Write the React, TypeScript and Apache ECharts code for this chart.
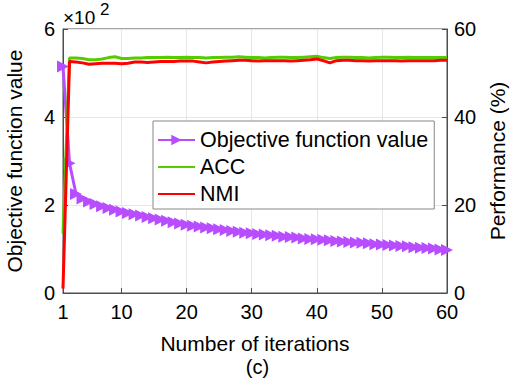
import React, { useEffect, useRef } from 'react';
import * as echarts from 'echarts';

const iterations: number[] = Array.from({ length: 60 }, (_, i) => i + 1);
const xTickValues = [1, 10, 20, 30, 40, 50, 60];

// Objective function value (×10^2)
const objective = [
  5.15, 2.95, 2.25, 2.15, 2.08, 2.02, 1.97, 1.93, 1.89, 1.85,
  1.82, 1.79, 1.76, 1.73, 1.70, 1.67, 1.64, 1.61, 1.58, 1.55,
  1.53, 1.51, 1.49, 1.47, 1.45, 1.43, 1.41, 1.39, 1.37, 1.36,
  1.34, 1.33, 1.31, 1.30, 1.28, 1.27, 1.26, 1.24, 1.23, 1.22,
  1.21, 1.20, 1.18, 1.17, 1.16, 1.15, 1.14, 1.13, 1.11, 1.10,
  1.09, 1.08, 1.07, 1.06, 1.04, 1.03, 1.02, 1.01, 0.99, 0.98,
];

// ACC (%)
const acc = [
  13.5, 53.4, 53.4, 53.3, 53.0, 53.0, 53.2, 53.5, 53.7, 53.3,
  53.3, 53.4, 53.4, 53.5, 53.5, 53.5, 53.6, 53.5, 53.5, 53.6,
  53.5, 53.5, 53.4, 53.5, 53.5, 53.6, 53.6, 53.7, 53.6, 53.5,
  53.5, 53.4, 53.5, 53.6, 53.6, 53.5, 53.5, 53.6, 53.7, 53.8,
  53.5, 53.3, 53.5, 53.6, 53.6, 53.5, 53.5, 53.4, 53.5, 53.6,
  53.6, 53.5, 53.5, 53.6, 53.5, 53.5, 53.5, 53.5, 53.5, 53.5,
];

// NMI (%)
const nmi = [
  1.0, 52.6, 52.5, 52.3, 52.0, 52.1, 52.2, 52.2, 52.2, 52.1,
  52.2, 52.5, 52.5, 52.4, 52.5, 52.6, 52.6, 52.6, 52.7, 52.7,
  52.7, 52.5, 52.3, 52.5, 52.6, 52.7, 52.8, 52.9, 52.9, 52.8,
  52.7, 52.8, 52.8, 52.8, 52.8, 52.7, 52.8, 52.9, 53.0, 53.2,
  52.8, 52.3, 52.8, 52.9, 52.9, 52.8, 52.8, 52.7, 52.8, 52.8,
  52.8, 52.8, 52.7, 52.8, 52.8, 52.8, 52.8, 52.8, 52.9, 52.9,
];

const FONT = '"Liberation Sans", Arial, Helvetica, sans-serif';
const AXIS = '#4d4d4d';

export default function App() {
  const ref = useRef<HTMLDivElement>(null);
  useEffect(() => {
    if (!ref.current) return;
    const chart = echarts.init(ref.current, null, { renderer: 'svg' });
    const pair = (arr: number[]) => arr.map((v, i) => [iterations[i], v]);
    chart.setOption({
      animation: false,
      backgroundColor: '#fff',
      textStyle: { fontFamily: FONT },
      grid: {
        left: 63, right: 68, top: 29, bottom: 93,
        containLabel: false,
        outerBoundsMode: 'none',
        show: true, borderColor: AXIS, borderWidth: 1, backgroundColor: 'transparent',
      },
      graphic: [
        { type: 'text', left: 63, top: 8, style: { text: '×10', fontSize: 19, fontFamily: FONT, fill: '#000' } },
        { type: 'text', left: 100, top: 1, style: { text: '2', fontSize: 17, fontFamily: FONT, fill: '#000' } },
        { type: 'text', left: 'center', top: 357, style: { text: '(c)', fontSize: 20, fontFamily: FONT, fill: '#000' } },
      ],
      legend: {
        orient: 'vertical',
        left: 153, top: 121,
        padding: [8, 6, 4, 4],
        itemGap: 5,
        itemWidth: 37,
        itemHeight: 13,
        backgroundColor: '#fff',
        borderColor: '#888',
        borderWidth: 1,
        borderRadius: 0,
        textStyle: { fontSize: 21.5, color: '#000', fontFamily: FONT },
        data: [
          { name: 'Objective function value' },
          { name: 'ACC', itemStyle: { opacity: 0 } },
          { name: 'NMI', itemStyle: { opacity: 0 } },
        ],
      },
      xAxis: {
        type: 'value',
        min: 1, max: 60,
        name: 'Number of iterations',
        nameLocation: 'middle',
        nameGap: 40,
        nameTextStyle: { fontSize: 21, color: '#000', fontFamily: FONT },
        axisLine: { show: true, lineStyle: { color: AXIS, width: 1 } },
        axisTick: { show: true, inside: true, length: 5, customValues: xTickValues, lineStyle: { color: AXIS } },
        axisLabel: { customValues: xTickValues, fontSize: 20, color: '#000', margin: 9, fontFamily: FONT },
        splitLine: { show: true, lineStyle: { color: '#e6e6e6', width: 1 } },
      },
      yAxis: [
        {
          type: 'value', min: 0, max: 6, interval: 2, position: 'left',
          name: 'Objective function value',
          nameLocation: 'middle', nameGap: 38,
          nameTextStyle: { fontSize: 21, color: '#000', fontFamily: FONT },
          axisLine: { show: true, lineStyle: { color: AXIS, width: 1 } },
          axisTick: { show: true, inside: true, length: 5, lineStyle: { color: AXIS } },
          axisLabel: { fontSize: 20, color: '#000', margin: 8, fontFamily: FONT },
          splitLine: { show: true, lineStyle: { color: '#e6e6e6', width: 1 } },
        },
        {
          type: 'value', min: 0, max: 60, interval: 20, position: 'right',
          name: 'Performance (%)',
          nameLocation: 'middle', nameGap: 37,
          nameTextStyle: { fontSize: 21, color: '#000', fontFamily: FONT },
          axisLine: { show: true, lineStyle: { color: AXIS, width: 1 } },
          axisTick: { show: true, inside: true, length: 5, lineStyle: { color: AXIS } },
          axisLabel: { fontSize: 20, color: '#000', margin: 7, fontFamily: FONT },
          splitLine: { show: false },
        },
      ],
      series: [
        {
          name: 'Objective function value',
          type: 'line',
          yAxisIndex: 0,
          data: pair(objective),
          symbol: 'triangle',
          symbolRotate: -90,
          symbolSize: 12,
          showSymbol: true,
          color: '#B84DFF',
          lineStyle: { width: 3, color: '#B84DFF' },
          itemStyle: { color: '#B84DFF' },
          z: 2,
        },
        {
          name: 'ACC',
          type: 'line',
          yAxisIndex: 1,
          data: pair(acc),
          symbol: 'none',
          color: '#55CC00',
          lineStyle: { width: 3, color: '#55CC00' },
          z: 3,
        },
        {
          name: 'NMI',
          type: 'line',
          yAxisIndex: 1,
          data: pair(nmi),
          symbol: 'none',
          color: '#FF0000',
          lineStyle: { width: 3, color: '#FF0000' },
          z: 4,
        },
      ],
    });
    return () => chart.dispose();
  }, []);
  return <div ref={ref} style={{ width: 515, height: 386, position: 'absolute', left: 0, top: 0 }} />;
}
